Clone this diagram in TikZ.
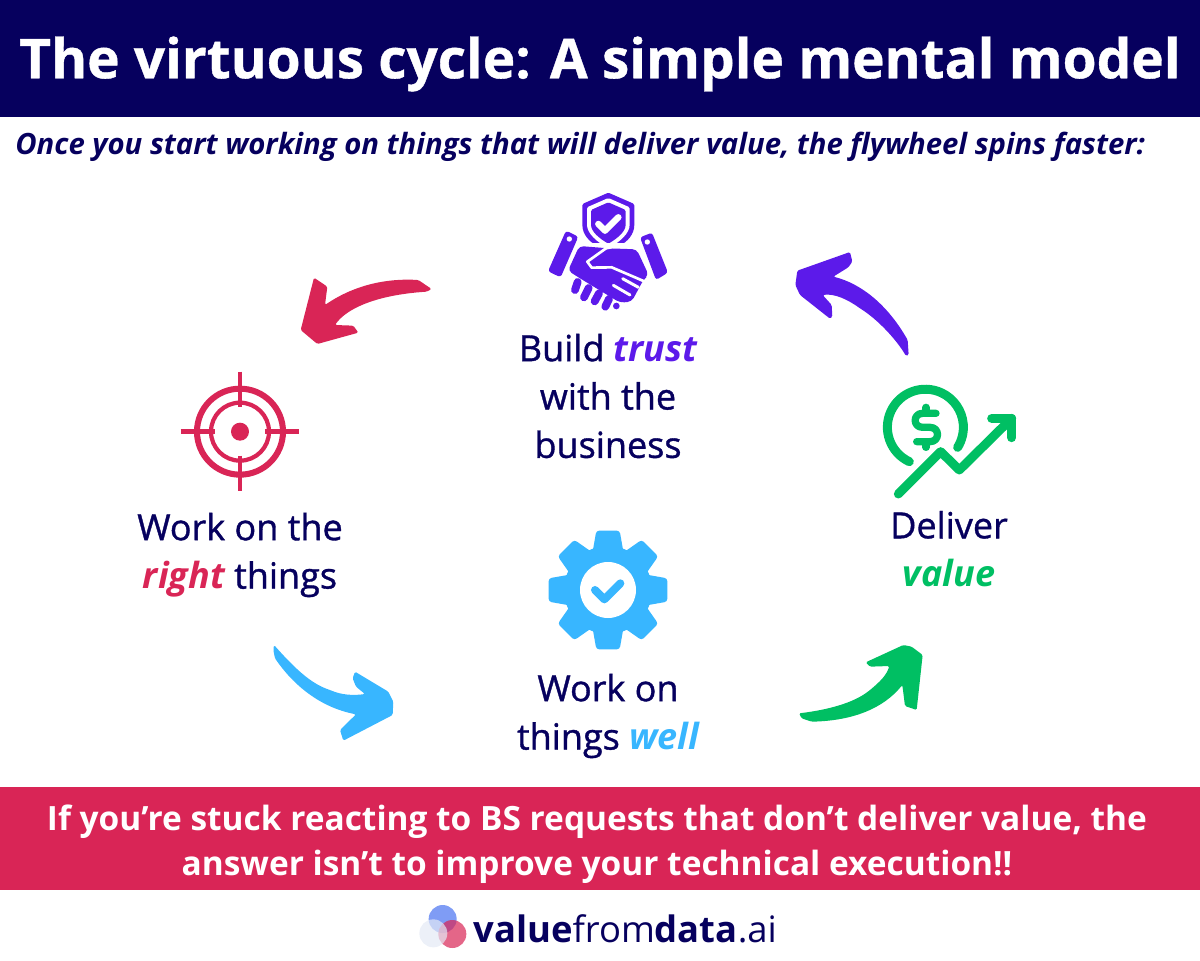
\documentclass[tikz,border=0pt]{standalone}
\usepackage{fontspec}
\setmainfont{Open Sans}
\newfontfamily\semi[FakeBold=1.0]{Open Sans}
\newfontfamily\heavy[UprightFont={* Bold},FakeBold=0.7]{Open Sans}
\usepackage{xcolor}
\definecolor{navy}{HTML}{06005E}
\definecolor{crimson}{HTML}{D92556}
\definecolor{violet}{HTML}{5C1AEA}
\definecolor{sky}{HTML}{38B6FF}
\definecolor{leaf}{HTML}{00BF63}
\definecolor{logoblue}{HTML}{7F9CF5}
\definecolor{logogrey}{HTML}{E4E9F5}
\newcommand{\hilite}[2]{\textcolor{#1}{\normalfont\bfseries\itshape #2}}

\begin{document}
\begin{tikzpicture}[
  x=0.025cm,y=-0.025cm,
  label/.style={align=center,text=navy,inner sep=0pt,font=\fontsize{25.6pt}{34.4pt}\selectfont\semi},
  band/.style={align=center,text=white,inner sep=0pt,font=\fontsize{23.78pt}{32.4pt}\selectfont\bfseries},
  icon/.style={shift={#1},scale=0.3333},
  line/.style={line width=#1,line cap=round,line join=round}
]
\useasboundingbox (0,0) rectangle (1200,960);
\fill[navy] (0,0) rectangle (1200,117);
\fill[crimson] (0,787) rectangle (1200,890);

\node[inner sep=0pt,text=white,font=\fontsize{39.05pt}{46pt}\selectfont\heavy] (title) at (600,64) {The virtuous cycle: A simple mental model};
\node[anchor=west,inner sep=0pt,text=navy,font=\fontsize{20.83pt}{26pt}\selectfont\bfseries\itshape] (intro) at (15,147) {Once you start working on things that will deliver value, the flywheel spins faster:};

\node[label] (trust) at (608,396) {Build \hilite{violet}{trust}\\with the\\business};
\node[label] (right) at (240,555) {Work on the\\\hilite{crimson}{right} things};
\node[label] (well) at (608,716) {Work on\\things \hilite{sky}{well}};
\node[label] (value) at (949,549) {Deliver\\\hilite{leaf}{value}};
\node[band] (stuck) at (597,844) {If you’re stuck reacting to BS requests that don’t deliver value, the\\answer isn’t to improve your technical execution!!};

% trust icon
\begin{scope}[icon={(530,180)}]
\fill[violet,rounded corners=1pt] (235,38) -- (313,72) -- (313,130) .. controls (313,165) and (290,185) .. (270,197) -- (200,197) .. controls (180,185) and (157,165) .. (157,130) -- (157,72) -- cycle;
\fill[white,rounded corners=1pt] (235,54) -- (299,82) -- (299,130) .. controls (299,160) and (270,185) .. (235,205) .. controls (200,185) and (171,160) .. (171,130) -- (171,82) -- cycle;
\fill[violet,rounded corners=1pt] (235,67) -- (287,90) -- (287,130) .. controls (287,155) and (262,175) .. (235,191) .. controls (208,175) and (183,155) .. (183,130) -- (183,90) -- cycle;
\draw[white,line=4.6pt] (205,132) -- (225,152) -- (265,112);
\fill[white] (135,190) rectangle (345,200);
\fill[violet,rounded corners=2pt] (108,152) -- (145,170) -- (92,292) -- (54,274) -- cycle;
\fill[violet,rounded corners=2pt] (330,172) -- (366,158) -- (414,278) -- (378,300) -- cycle;
\fill[white] (118,177) circle (8);
\fill[white] (352,186) circle (8);
\fill[violet,rounded corners=3pt] (148,198) -- (235,205) -- (320,208) -- (356,285) -- (340,300) -- (305,365) -- (270,368) -- (150,295) -- (114,272) -- cycle;
\draw[white,line=1.9pt] (262,198) -- (228,205) -- (172,245) -- (185,263) -- (245,262) -- (345,305);
\draw[white,line=2.1pt] (278,296) -- (325,322);
\draw[white,line=2.1pt] (250,316) -- (300,345);
\draw[violet,line=5.6pt] (143,306) -- (135,330);
\draw[violet,line=5.6pt] (176,324) -- (162,352);
\draw[violet,line=5.6pt] (207,340) -- (194,364);
\draw[violet,line=5.6pt] (237,357) -- (226,380);
\fill[violet] (259,378) circle (10);
\end{scope}

% target icon
\begin{scope}[icon={(170,365)}]
\draw[crimson,line width=4.3pt] (210,200) circle (129);
\draw[crimson,line width=3pt] (210,200) circle (87);
\fill[crimson] (210,200) circle (27);
\draw[crimson,line width=3.2pt] (210,20) -- (210,125);
\draw[crimson,line width=3.2pt] (210,272) -- (210,378);
\draw[crimson,line width=3.2pt] (32,200) -- (135,200);
\draw[crimson,line width=3.2pt] (285,200) -- (388,200);
\end{scope}

% gear icon
\begin{scope}[icon={(535,520)}]
\fill[sky] (219,210) circle (132);
\foreach \a in {0,45,...,315}
  \fill[sky,rounded corners=2pt,rotate around={\a:(219,210)}] (172,100) -- (184,32) -- (254,32) -- (266,100) -- cycle;
\fill[white] (219,210) circle (84);
\draw[sky,line=5.7pt] (180,210) -- (208,238) -- (256,190);
\end{scope}

% growth icon
\begin{scope}[icon={(870,370)}]
\draw[leaf,line=6.4pt] (118,275) arc[start angle=115,end angle=392,radius=114];
\draw[leaf,line=6.4pt] (85,372) -- (212,245) -- (268,300) -- (425,145);
\draw[leaf,line=6.4pt] (365,145) -- (425,145) -- (425,203);
\draw[leaf,line=5.2pt] (198,130) -- (158,130) .. controls (128,130) and (128,172) .. (158,172) -- (180,172) .. controls (210,172) and (210,215) .. (180,215) -- (140,215);
\draw[leaf,line=5.2pt] (168,112) -- (168,130);
\draw[leaf,line=5.2pt] (168,215) -- (168,232);
\end{scope}

% brush arrows
\begin{scope}[icon={(780,240)}]
\fill[violet,rounded corners=1pt] (378,348) .. controls (350,300) and (295,240) .. (240,205) .. controls (205,180) and (165,160) .. (128,165) -- (155,195) -- (157,230) -- (150,236) -- (60,165) -- (46,135) -- (52,92) -- (210,36) -- (217,65) -- (205,82) -- (160,110) .. controls (240,130) and (320,190) .. (383,300) -- (386,345) -- cycle;
\end{scope}
\begin{scope}[icon={(290,265)}]
\fill[crimson,rounded corners=1pt] (425,72) -- (385,45) .. controls (300,40) and (200,55) .. (105,120) -- (112,65) -- (72,38) -- (32,195) -- (82,237) -- (205,203) -- (190,182) -- (135,180) .. controls (170,130) and (260,90) .. (410,80) -- cycle;
\end{scope}
\begin{scope}[icon={(260,630)}]
\fill[sky,rounded corners=1pt] (42,45) .. controls (100,110) and (150,160) .. (210,180) .. controls (245,195) and (280,197) .. (315,192) -- (288,170) -- (278,145) -- (285,125) -- (385,185) -- (400,215) -- (398,255) -- (250,332) -- (240,300) -- (288,253) .. controls (180,232) and (100,165) .. (45,85) -- (40,60) -- cycle;
\end{scope}
\begin{scope}[icon={(790,630)}]
\fill[leaf,rounded corners=1pt] (27,250) .. controls (110,240) and (190,220) .. (240,180) .. controls (270,155) and (290,135) .. (298,108) -- (240,110) -- (227,97) -- (340,45) -- (365,50) -- (398,75) -- (380,240) -- (345,228) -- (337,165) .. controls (280,235) and (190,272) .. (65,275) -- (35,265) -- cycle;
\end{scope}

% logo
\begin{scope}[icon={(410,895)}]
\fill[logoblue] (98,72) circle (42);
\fill[crimson,opacity=0.7] (127,117) circle (42);
\fill[logogrey,opacity=0.7] (70,115) circle (42);
\end{scope}
\node[anchor=west,inner sep=0pt,text=navy,font=\fontsize{25.9pt}{30pt}\selectfont] (site) at (473,929) {\bfseries value\mdseries from\bfseries data\mdseries .ai};
\end{tikzpicture}
\end{document}
